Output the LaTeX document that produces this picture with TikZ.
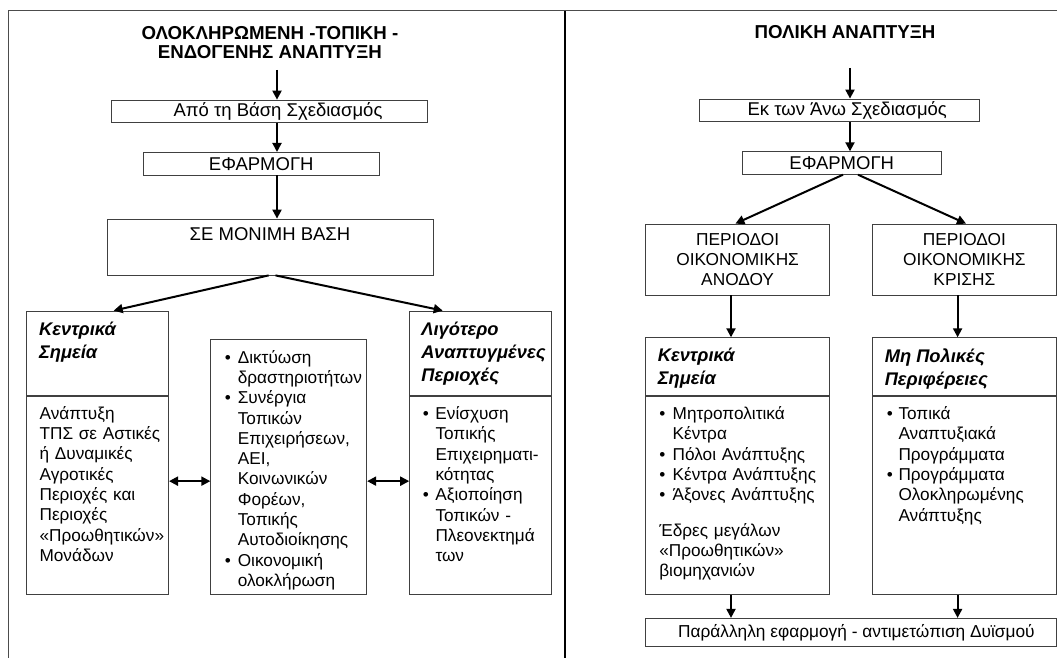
\documentclass[tikz,border=0pt]{standalone}
\usepackage{fontspec}
\setmainfont{Liberation Sans}
\usetikzlibrary{arrows.meta, positioning}
\setlength{\parindent}{0pt}

\tikzset{
  box/.style={draw=black!75, line width=0.8pt, inner sep=0pt},
  big/.style={font=\fontsize{18.5}{22}\selectfont},
  txt/.style={anchor=north west, inner sep=0pt, align=left, font=\fontsize{17.2}{20.3}\selectfont},
  head/.style={anchor=north west, inner sep=0pt, align=left, font=\fontsize{18.3}{23}\selectfont\bfseries\itshape},
  ttl/.style={align=center, inner sep=0pt, font=\fontsize{18.7}{18.4}\selectfont\bfseries},
  arr/.style={-{Triangle[length=9pt,width=9pt]}, line width=2pt},
  darr/.style={{Triangle[length=9pt,width=9pt]}-{Triangle[length=9pt,width=9pt]}, line width=2pt},
}
\newcommand{\bul}[2][13pt]{\par\hangindent=#1\hangafter=1\noindent\makebox[#1][l]{\textbullet}#2\par}

\begin{document}
\begin{tikzpicture}[x=1pt, y=-1pt]
        \useasboundingbox (0,0) rectangle (1058,658);
        % frame and divider
        \draw [black!70, line width=1pt] (8,658) -- (8,11) -- (1057,11);
        \draw [black, line width=2pt] (564.7,11) -- (564.7,658);

        % left column
        \node [ttl] (ttlA) at (270,42.5) {ΟΛΟΚΛΗΡΩΜΕΝΗ -ΤΟΠΙΚΗ -\\ΕΝΔΟΓΕΝΗΣ ΑΝΑΠΤΥΞΗ};
        \coordinate (inA) at (277,70);
        \node [box, big, minimum width=316pt, minimum height=22.3pt] (planA) at (269,111.2) {\hspace*{18pt}Από τη Βάση Σχεδιασμός};
        \node [box, big, minimum width=236.5pt, minimum height=22.7pt] (applyA) at (261.25,163.7) {ΕΦΑΡΜΟΓΗ};
        \node [box, minimum width=326pt, minimum height=56pt] (baseA) at (270,247) {};
        \node [big, inner sep=0pt] (baseT) at ([yshift=-16pt]baseA.north) {ΣΕ ΜΟΝΙΜΗ ΒΑΣΗ};
        \draw [arr] (inA) -- (inA |- planA.north);
        \draw [arr] (inA |- planA.south) -- (inA |- applyA.north);
        \draw [arr] (inA |- applyA.south) -- (inA |- baseA.north);

        \node [box, minimum width=141.8pt, minimum height=84.7pt] (cenhead) at (97.7,353.35) {};
        \node [box, minimum width=141.8pt, minimum height=198.3pt, below=0pt of cenhead] (cenbody) {};
        \node [box, minimum width=156pt, minimum height=255pt] (net) at (288.75,466.5) {};
        \node [box, minimum width=142.2pt, minimum height=84.7pt] (lesshead) at (480.7,353.35) {};
        \node [box, minimum width=142.2pt, minimum height=198.3pt, below=0pt of lesshead] (lessbody) {};

        \node [head, xshift=12.5pt, yshift=-11pt] at (cenhead.north west) {Κεντρικά\\Σημεία};
        \node [txt, text width=135pt, xshift=13pt, yshift=-10pt] at (cenbody.north west) {Ανάπτυξη\\ΤΠΣ σε Αστικές\\ή Δυναμικές\\Αγροτικές\\Περιοχές και\\Περιοχές\\«Προωθητικών»\\Μονάδων};
        \node [txt, text width=145pt, xshift=14.3pt, yshift=-4pt] at (net.north west) {%
          \bul{Δικτύωση\newline δραστηριοτήτων}
          \bul{Συνέργια\newline Τοπικών\newline Επιχειρήσεων,\newline ΑΕΙ,\newline Κοινωνικών\newline Φορέων,\newline Τοπικής\newline Αυτοδιοίκησης}
          \bul{Οικονομική\newline ολοκλήρωση}};
        \node [head, xshift=12pt, yshift=-11pt] at (lesshead.north west) {Λιγότερο\\Αναπτυγμένες\\Περιοχές};
        \node [txt, text width=135pt, xshift=13.4pt, yshift=-3pt] at (lessbody.north west) {%
          \bul[12.7pt]{Ενίσχυση\newline Τοπικής\newline Επιχειρηματι-\newline κότητας}
          \bul[12.7pt]{Αξιοποίηση\newline Τοπικών -\newline Πλεονεκτημά\newline των}};

        \draw [arr] ([xshift=-1.4pt]baseA.south) -- ([xshift=16pt]cenhead.north);
        \draw [arr] ([xshift=5.5pt]baseA.south) -- ([xshift=-38pt]lesshead.north);
        \draw [darr] ([yshift=14.5pt]cenbody.east) -- ([yshift=14.5pt]cenbody.east -| net.west);
        \draw [darr] ([yshift=14.5pt]cenbody.east -| net.east) -- ([yshift=14.5pt]cenbody.east -| lessbody.west);

        % right column
        \node [ttl] (ttlB) at (845,31.7) {ΠΟΛΙΚΗ ΑΝΑΠΤΥΞΗ};
        \coordinate (inB) at (850,68);
        \node [box, big, minimum width=280.5pt, minimum height=22.7pt] (planB) at (839.25,110.35) {\hspace*{16pt}Εκ των Άνω Σχεδιασμός};
        \node [box, big, minimum width=199.5pt, minimum height=22.6pt] (applyB) at (841.75,163) {ΕΦΑΡΜΟΓΗ};
        \draw [arr] (inB) -- (inB |- planB.north);
        \draw [arr] (inB |- planB.south) -- (inB |- applyB.north);

        \node [box, txt, anchor=center, align=center, minimum width=184.2pt, minimum height=71pt, font=\fontsize{17.3}{20.4}\selectfont] (rise) at (737.6,259.5) {ΠΕΡΙΟΔΟΙ\\ΟΙΚΟΝΟΜΙΚΗΣ\\ΑΝΟΔΟΥ};
        \node [box, txt, anchor=center, align=center, minimum width=183.9pt, minimum height=71pt, font=\fontsize{17.3}{20.4}\selectfont] (crisis) at (964.35,259.5) {ΠΕΡΙΟΔΟΙ\\ΟΙΚΟΝΟΜΙΚΗΣ\\ΚΡΙΣΗΣ};
        \draw [arr] ([xshift=1.25pt]applyB.south) -- ([xshift=-2.2pt]rise.north);
        \draw [arr] ([xshift=16.25pt]applyB.south) -- ([xshift=1.65pt]crisis.north);

        \node [box, minimum width=184.2pt, minimum height=58pt] (polhead) at (737.6,366.7) {};
        \node [box, minimum width=184.2pt, minimum height=198.3pt, below=0pt of polhead] (polbody) {};
        \node [box, minimum width=183.9pt, minimum height=58pt] (nonhead) at (964.35,366.7) {};
        \node [box, minimum width=183.9pt, minimum height=198.3pt, below=0pt of nonhead] (nonbody) {};
        \node [box, txt, anchor=center, minimum width=410.8pt, minimum height=28.4pt, font=\fontsize{17.3}{20}\selectfont] (both) at (850.9,632.5) {\hspace*{11pt}Παράλληλη εφαρμογή - αντιμετώπιση Δυϊσμού};

        \node [head, xshift=12.5pt, yshift=-11pt] at (polhead.north west) {Κεντρικά\\Σημεία};
        \node [txt, text width=175pt, xshift=14pt, yshift=-3pt] at (polbody.north west) {%
          \bul[13.4pt]{Μητροπολιτικά\newline Κέντρα}
          \bul[13.4pt]{Πόλοι Ανάπτυξης}
          \bul[13.4pt]{Κέντρα Ανάπτυξης}
          \bul[13.4pt]{Άξονες Ανάπτυξης}
          \vspace{15pt}\noindent Έδρες μεγάλων\newline «Προωθητικών»\newline βιομηχανιών};
        \node [head, xshift=12.6pt, yshift=-11pt] at (nonhead.north west) {Μη Πολικές\\Περιφέρειες};
        \node [txt, text width=170pt, xshift=14.6pt, yshift=-3pt] at (nonbody.north west) {%
          \bul[11.7pt]{Τοπικά\newline Αναπτυξιακά\newline Προγράμματα}
          \bul[11.7pt]{Προγράμματα\newline Ολοκληρωμένης\newline Ανάπτυξης}};

        \draw [arr] ([xshift=-6.6pt]rise.south) -- ([xshift=-6.6pt]rise.south |- polhead.north);
        \draw [arr] ([xshift=-6.75pt]crisis.south) -- ([xshift=-6.75pt]crisis.south |- nonhead.north);
        \draw [arr] ([xshift=-6.6pt]rise.south |- polbody.south) -- ([xshift=-6.6pt]rise.south |- both.north);
        \draw [arr] ([xshift=-6.75pt]crisis.south |- nonbody.south) -- ([xshift=-6.75pt]crisis.south |- both.north);
\end{tikzpicture}
\end{document}
